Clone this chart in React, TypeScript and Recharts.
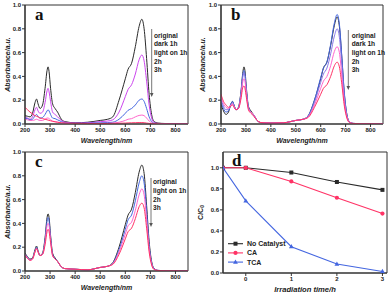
import React from 'react';
import { LineChart, Line, XAxis, YAxis, ReferenceArea } from 'recharts';

const wavelengths = [200, 210, 220, 230, 240, 246, 252, 260, 270, 280, 288, 292, 296, 302, 310, 320, 330, 345, 360, 400, 450, 500, 530, 550, 575, 600, 611, 625, 640, 655, 666, 675, 685, 695, 705, 715, 730, 760, 850];
const wlTicks = [200, 300, 400, 500, 600, 700, 800];
const absTicks = [0, 0.2, 0.4, 0.6, 0.8, 1.0];

// Panel a
const aOriginal = [0.07, 0.065, 0.06, 0.09, 0.18, 0.21, 0.17, 0.13, 0.16, 0.30, 0.45, 0.48, 0.44, 0.30, 0.17, 0.13, 0.10, 0.04, 0.02, 0.01, 0.015, 0.03, 0.04, 0.06, 0.20, 0.38, 0.46, 0.51, 0.65, 0.82, 0.88, 0.80, 0.55, 0.25, 0.08, 0.02, 0.008, 0.004, 0];
const aDark1h = [0.055, 0.05, 0.04, 0.06, 0.12, 0.14, 0.11, 0.09, 0.10, 0.18, 0.28, 0.30, 0.27, 0.19, 0.10, 0.08, 0.06, 0.03, 0.015, 0.008, 0.01, 0.02, 0.025, 0.035, 0.10, 0.23, 0.29, 0.33, 0.42, 0.54, 0.58, 0.53, 0.36, 0.16, 0.05, 0.012, 0.005, 0.003, 0];
const aLight1h = [0.05, 0.045, 0.035, 0.04, 0.07, 0.08, 0.065, 0.05, 0.055, 0.08, 0.11, 0.12, 0.11, 0.08, 0.05, 0.045, 0.035, 0.02, 0.01, 0.005, 0.006, 0.01, 0.012, 0.015, 0.04, 0.09, 0.115, 0.13, 0.16, 0.20, 0.21, 0.19, 0.13, 0.06, 0.02, 0.006, 0.003, 0.002, 0];
const a2h = [0.04, 0.035, 0.03, 0.03, 0.035, 0.04, 0.035, 0.03, 0.03, 0.04, 0.05, 0.05, 0.045, 0.035, 0.025, 0.02, 0.015, 0.01, 0.006, 0.004, 0.004, 0.005, 0.006, 0.008, 0.015, 0.03, 0.04, 0.045, 0.06, 0.072, 0.075, 0.07, 0.05, 0.025, 0.01, 0.004, 0.002, 0.001, 0];
const a3h = [0.14, 0.12, 0.10, 0.085, 0.07, 0.065, 0.06, 0.05, 0.045, 0.04, 0.035, 0.033, 0.03, 0.027, 0.022, 0.018, 0.015, 0.01, 0.008, 0.005, 0.004, 0.004, 0.004, 0.005, 0.006, 0.008, 0.009, 0.01, 0.011, 0.012, 0.012, 0.011, 0.008, 0.005, 0.003, 0.002, 0.001, 0.001, 0];

// Panel b
const bOriginal = [0.17, 0.11, 0.08, 0.10, 0.17, 0.19, 0.16, 0.12, 0.14, 0.27, 0.44, 0.48, 0.45, 0.30, 0.15, 0.11, 0.08, 0.03, 0.012, 0.008, 0.01, 0.03, 0.04, 0.07, 0.20, 0.38, 0.47, 0.52, 0.66, 0.83, 0.90, 0.82, 0.55, 0.25, 0.08, 0.02, 0.005, 0.002, 0];
const bDark1h = [0.19, 0.13, 0.10, 0.11, 0.17, 0.19, 0.16, 0.12, 0.14, 0.26, 0.42, 0.45, 0.42, 0.28, 0.14, 0.10, 0.08, 0.03, 0.012, 0.008, 0.01, 0.03, 0.04, 0.07, 0.20, 0.39, 0.47, 0.52, 0.67, 0.85, 0.92, 0.84, 0.56, 0.26, 0.08, 0.02, 0.005, 0.002, 0];
const bLight1h = [0.21, 0.15, 0.12, 0.12, 0.16, 0.18, 0.15, 0.12, 0.13, 0.25, 0.40, 0.43, 0.40, 0.27, 0.14, 0.10, 0.08, 0.03, 0.012, 0.008, 0.01, 0.03, 0.04, 0.065, 0.18, 0.35, 0.42, 0.47, 0.59, 0.74, 0.80, 0.73, 0.49, 0.22, 0.07, 0.02, 0.005, 0.002, 0];
const b2h = [0.23, 0.17, 0.14, 0.13, 0.16, 0.17, 0.15, 0.12, 0.13, 0.23, 0.36, 0.38, 0.36, 0.25, 0.13, 0.10, 0.08, 0.03, 0.012, 0.008, 0.01, 0.03, 0.04, 0.06, 0.16, 0.30, 0.36, 0.40, 0.49, 0.61, 0.65, 0.60, 0.40, 0.18, 0.06, 0.015, 0.005, 0.002, 0];
const b3h = [0.25, 0.19, 0.16, 0.14, 0.15, 0.16, 0.14, 0.12, 0.13, 0.21, 0.31, 0.32, 0.30, 0.22, 0.12, 0.09, 0.07, 0.03, 0.012, 0.008, 0.01, 0.03, 0.04, 0.055, 0.14, 0.25, 0.30, 0.33, 0.40, 0.49, 0.52, 0.48, 0.33, 0.15, 0.05, 0.012, 0.004, 0.002, 0];

// Panel c
const cOriginal = [0.15, 0.12, 0.10, 0.11, 0.18, 0.21, 0.17, 0.13, 0.15, 0.28, 0.45, 0.48, 0.45, 0.30, 0.15, 0.11, 0.08, 0.035, 0.02, 0.015, 0.01, 0.03, 0.04, 0.07, 0.20, 0.39, 0.47, 0.52, 0.66, 0.83, 0.89, 0.82, 0.55, 0.25, 0.08, 0.02, 0.005, 0.002, 0];
const cLight1h = [0.14, 0.115, 0.095, 0.105, 0.17, 0.20, 0.165, 0.13, 0.145, 0.26, 0.42, 0.45, 0.42, 0.28, 0.14, 0.105, 0.08, 0.035, 0.02, 0.015, 0.01, 0.03, 0.04, 0.065, 0.18, 0.35, 0.43, 0.47, 0.59, 0.74, 0.80, 0.74, 0.50, 0.22, 0.07, 0.02, 0.005, 0.002, 0];
const c2h = [0.14, 0.11, 0.09, 0.10, 0.16, 0.19, 0.16, 0.13, 0.14, 0.24, 0.38, 0.40, 0.38, 0.26, 0.13, 0.10, 0.08, 0.035, 0.02, 0.015, 0.01, 0.03, 0.04, 0.06, 0.16, 0.31, 0.38, 0.41, 0.51, 0.64, 0.69, 0.64, 0.43, 0.19, 0.06, 0.015, 0.005, 0.002, 0];
const c3h = [0.13, 0.105, 0.09, 0.10, 0.16, 0.19, 0.16, 0.13, 0.14, 0.22, 0.33, 0.35, 0.33, 0.24, 0.13, 0.10, 0.08, 0.035, 0.02, 0.015, 0.01, 0.03, 0.04, 0.055, 0.14, 0.27, 0.33, 0.36, 0.44, 0.54, 0.57, 0.53, 0.36, 0.16, 0.05, 0.012, 0.004, 0.002, 0];

// Panel d
const times = [-0.5, 0, 1, 2, 3];
const timeTicks = [0, 1, 2, 3];
const noCatalyst = [1.0, 1.0, 0.955, 0.865, 0.79];
const caValues = [1.0, 1.0, 0.87, 0.715, 0.565];
const tcaValues = [1.0, 0.685, 0.25, 0.085, 0.015];

const legendABC = ['original', 'dark 1h', 'light on 1h', '2h', '3h'];
const legendC = ['original', 'light on 1h', '2h', '3h'];
const legendD = ['No Catalyst', 'CA', 'TCA'];

const BLACK = '#2a2a2a';
const MAGENTA = '#cc44ee';
const BLUE = '#4466e0';
const PINK = '#ff66cc';
const RED = '#ff3366';
const PURPLE = '#8877e8';
const FONT = "Arial, 'Liberation Sans', sans-serif";
const AXIS = '#333';

type Series = { key: string; values: number[]; color: string };

function buildRows(series: Series[]) {
  return wavelengths.map((w, i) => {
    const row: Record<string, number> = { wl: w };
    series.forEach((s) => {
      row[s.key] = s.values[i];
    });
    return row;
  });
}

const tickStyle = { fontSize: 6, fontWeight: 700, fill: '#222', fontFamily: FONT };

function SpectrumPanel({ left, top, yWidth, series }: { left: number; top: number; yWidth: number; series: Series[] }) {
  const rows = buildRows(series);
  return (
    <div style={{ position: 'absolute', left, top, width: 195, height: 147 }}>
      <LineChart width={195} height={147} data={rows} margin={{ top: 5, right: 7, bottom: 0, left: 0 }}>
        <XAxis
          dataKey="wl"
          type="number"
          domain={[200, 850]}
          ticks={wlTicks}
          height={23}
          tickSize={3}
          tickMargin={1}
          tick={tickStyle}
          axisLine={{ stroke: AXIS, strokeWidth: 1.2 }}
          tickLine={{ stroke: AXIS }}
          allowDataOverflow
        />
        <YAxis
          type="number"
          domain={[0, 1]}
          ticks={absTicks}
          width={yWidth}
          tickSize={3}
          tickMargin={1}
          tick={tickStyle}
          tickFormatter={(v: number) => v.toFixed(1)}
          axisLine={{ stroke: AXIS, strokeWidth: 1.2 }}
          tickLine={{ stroke: AXIS }}
          allowDataOverflow
        />
        {series.map((s) => (
          <Line key={s.key} dataKey={s.key} type="monotone" stroke={s.color} strokeWidth={1} dot={false} isAnimationActive={false} />
        ))}
        <ReferenceArea x1={200} x2={850} y1={0} y2={1} fill="none" stroke={AXIS} strokeWidth={1} />
      </LineChart>
    </div>
  );
}

const squareDot = (color: string) => (props: any) => (
  <rect key={`sq-${props.index}`} x={props.cx - 2} y={props.cy - 2} width={4} height={4} fill={color} />
);
const circleDot = (color: string) => (props: any) => (
  <circle key={`ci-${props.index}`} cx={props.cx} cy={props.cy} r={2.1} fill={color} />
);
const triDot = (color: string) => (props: any) => (
  <path key={`tr-${props.index}`} d={`M${props.cx},${props.cy - 2.6} L${props.cx + 2.4},${props.cy + 1.6} L${props.cx - 2.4},${props.cy + 1.6} Z`} fill={color} />
);

function KineticsPanel() {
  const rows = times.map((t, i) => ({ t, nc: noCatalyst[i], ca: caValues[i], tca: tcaValues[i] }));
  return (
    <div style={{ position: 'absolute', left: 195, top: 147, width: 195, height: 147 }}>
      <LineChart width={195} height={147} data={rows} margin={{ top: 5, right: 3, bottom: 0, left: 0 }}>
        <XAxis
          dataKey="t"
          type="number"
          domain={[-0.5, 3.1]}
          ticks={timeTicks}
          height={21}
          tickSize={3}
          tickMargin={1}
          tick={tickStyle}
          axisLine={{ stroke: AXIS, strokeWidth: 1.2 }}
          tickLine={{ stroke: AXIS }}
          allowDataOverflow
        />
        <YAxis
          type="number"
          domain={[0, 1.15]}
          ticks={absTicks}
          width={28}
          tickSize={3}
          tickMargin={1}
          tick={tickStyle}
          tickFormatter={(v: number) => v.toFixed(1)}
          axisLine={{ stroke: AXIS, strokeWidth: 1.2 }}
          tickLine={{ stroke: AXIS }}
          allowDataOverflow
        />
        <Line dataKey="nc" type="linear" stroke={BLACK} strokeWidth={1.1} dot={squareDot(BLACK)} isAnimationActive={false} />
        <Line dataKey="ca" type="linear" stroke={RED} strokeWidth={1.1} dot={circleDot(RED)} isAnimationActive={false} />
        <Line dataKey="tca" type="linear" stroke={BLUE} strokeWidth={1.1} dot={triDot(BLUE)} isAnimationActive={false} />
        <ReferenceArea x1={-0.5} x2={3.1} y1={0} y2={1.15} fill="none" stroke={AXIS} strokeWidth={1} />
      </LineChart>
    </div>
  );
}

function ArrowLegend({ x, y1, y2, textX, baseline, labels }: { x: number; y1: number; y2: number; textX: number; baseline: number; labels: string[] }) {
  return (
    <g>
      <line x1={x} y1={y1} x2={x} y2={y2 - 3} stroke="#777" strokeWidth={1} />
      <path d={`M${x - 1.8},${y2 - 4} L${x + 1.8},${y2 - 4} L${x},${y2} Z`} fill="#555" />
      {labels.map((l, i) => (
        <text key={l} x={textX} y={baseline + i * 8.7} fontSize={6.6} fontWeight={700} fill="#222" fontFamily={FONT}>
          {l}
        </text>
      ))}
    </g>
  );
}

function Overlay() {
  const titleStyle = { fontSize: 7, fontWeight: 700, fontStyle: 'italic' as const, fill: '#222', fontFamily: FONT };
  const letter = { fontSize: 17, fontWeight: 700, fill: '#111', fontFamily: "'Liberation Serif', 'Times New Roman', serif" };
  return (
    <svg width={390} height={294} style={{ position: 'absolute', left: 0, top: 0, pointerEvents: 'none' }}>
      <text x={35} y={20} {...letter}>a</text>
      <text x={231} y={19.5} {...letter}>b</text>
      <text x={35} y={167} {...letter}>c</text>
      <text x={232} y={165.5} {...letter}>d</text>

      <text x={106.5} y={142.5} textAnchor="middle" {...titleStyle}>Wavelength/nm</text>
      <text x={302} y={142.5} textAnchor="middle" {...titleStyle}>Wavelength/nm</text>
      <text x={106.5} y={289.5} textAnchor="middle" {...titleStyle}>Wavelength/nm</text>
      <text x={305} y={292} textAnchor="middle" {...titleStyle} fontSize={7.6}>Irradiation time/h</text>

      <text transform="translate(10,64.5) rotate(-90)" textAnchor="middle" {...titleStyle}>Absorbance/a.u.</text>
      <text transform="translate(205,64.5) rotate(-90)" textAnchor="middle" {...titleStyle}>Absorbance/a.u.</text>
      <text transform="translate(10,211.5) rotate(-90)" textAnchor="middle" {...titleStyle}>Absorbance/a.u.</text>
      <text transform="translate(202.5,212.5) rotate(-90)" textAnchor="middle" {...titleStyle} fontStyle="normal">
        C/C<tspan fontSize={5} dy={1.5}>0</tspan>
      </text>

      <ArrowLegend x={151.7} y1={29} y2={97} textX={154} baseline={37.5} labels={legendABC} />
      <ArrowLegend x={348.3} y1={30} y2={90} textX={351.7} baseline={37.5} labels={legendABC} />
      <ArrowLegend x={151} y1={178} y2={227} textX={153} baseline={184.3} labels={legendC} />

      {legendD.map((l, i) => {
        const y = 243.7 + i * 9.2;
        const color = [BLACK, RED, BLUE][i];
        return (
          <g key={l}>
            <line x1={228} x2={243} y1={y} y2={y} stroke={color} strokeWidth={1.1} />
            {i === 0 && <rect x={233.5} y={y - 2} width={4} height={4} fill={color} />}
            {i === 1 && <circle cx={235.5} cy={y} r={2.1} fill={color} />}
            {i === 2 && <path d={`M235.5,${y - 2.6} L237.9,${y + 1.6} L233.1,${y + 1.6} Z`} fill={color} />}
            <text x={247} y={y + 2.4} fontSize={7} fontWeight={700} fill="#222" fontFamily={FONT}>{l}</text>
          </g>
        );
      })}
    </svg>
  );
}

export default function App() {
  const seriesA: Series[] = [
    { key: 'orig', values: aOriginal, color: BLACK },
    { key: 'dark', values: aDark1h, color: MAGENTA },
    { key: 'light', values: aLight1h, color: BLUE },
    { key: 'h2', values: a2h, color: PINK },
    { key: 'h3', values: a3h, color: RED },
  ];
  const seriesB: Series[] = [
    { key: 'orig', values: bOriginal, color: BLACK },
    { key: 'dark', values: bDark1h, color: BLUE },
    { key: 'light', values: bLight1h, color: PURPLE },
    { key: 'h2', values: b2h, color: PINK },
    { key: 'h3', values: b3h, color: RED },
  ];
  const seriesC: Series[] = [
    { key: 'orig', values: cOriginal, color: BLACK },
    { key: 'light', values: cLight1h, color: BLUE },
    { key: 'h2', values: c2h, color: PINK },
    { key: 'h3', values: c3h, color: RED },
  ];
  return (
    <div style={{ position: 'absolute', left: 0, top: 0, width: 390, height: 294, background: '#fff', overflow: 'hidden' }}>
      <SpectrumPanel left={0} top={0} yWidth={25} series={seriesA} />
      <SpectrumPanel left={195} top={0} yWidth={26} series={seriesB} />
      <SpectrumPanel left={0} top={147} yWidth={25} series={seriesC} />
      <KineticsPanel />
      <Overlay />
    </div>
  );
}
